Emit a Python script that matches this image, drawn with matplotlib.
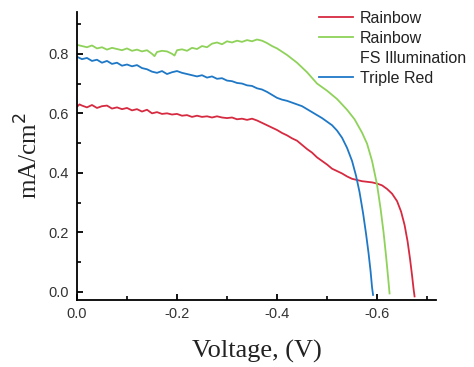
import matplotlib
matplotlib.use("Agg")
import matplotlib.pyplot as plt
import matplotlib.ticker as ticker
from matplotlib.lines import Line2D

# J-V curves (voltage is negative, axis runs 0 -> -0.7)
v_green = [0.000, -0.010, -0.020, -0.030, -0.040, -0.050, -0.060, -0.070, -0.080, -0.090,
           -0.100, -0.110, -0.120, -0.130, -0.140, -0.150, -0.155, -0.160, -0.170, -0.180,
           -0.190, -0.195, -0.200, -0.210, -0.220, -0.230, -0.240, -0.250, -0.260, -0.270,
           -0.280, -0.290, -0.300, -0.310, -0.320, -0.330, -0.340, -0.350, -0.360, -0.370,
           -0.380, -0.390, -0.400, -0.420, -0.440, -0.460, -0.480, -0.500, -0.520, -0.540,
           -0.555, -0.570, -0.580, -0.590, -0.600, -0.607, -0.613, -0.618, -0.622, -0.625]
j_green = [0.830, 0.826, 0.822, 0.828, 0.818, 0.822, 0.814, 0.820, 0.816, 0.812,
           0.818, 0.810, 0.814, 0.808, 0.812, 0.800, 0.792, 0.806, 0.810, 0.808,
           0.800, 0.794, 0.812, 0.815, 0.810, 0.820, 0.816, 0.826, 0.822, 0.834,
           0.838, 0.832, 0.842, 0.838, 0.844, 0.840, 0.846, 0.842, 0.848, 0.844,
           0.836, 0.826, 0.818, 0.796, 0.770, 0.738, 0.700, 0.676, 0.648, 0.612,
           0.580, 0.535, 0.498, 0.440, 0.360, 0.280, 0.200, 0.120, 0.050, -0.005]

v_blue = [0.000, -0.010, -0.020, -0.030, -0.040, -0.050, -0.060, -0.070, -0.080, -0.090,
          -0.100, -0.110, -0.120, -0.130, -0.140, -0.150, -0.160, -0.170, -0.180, -0.190,
          -0.200, -0.210, -0.220, -0.230, -0.240, -0.250, -0.260, -0.270, -0.280, -0.290,
          -0.300, -0.310, -0.320, -0.330, -0.340, -0.350, -0.360, -0.370, -0.380, -0.390,
          -0.400, -0.410, -0.420, -0.430, -0.440, -0.450, -0.460, -0.470, -0.480, -0.490,
          -0.500, -0.510, -0.520, -0.530, -0.540, -0.550, -0.558, -0.565, -0.572, -0.578,
          -0.583, -0.587, -0.590, -0.592]
j_blue = [0.790, 0.782, 0.786, 0.776, 0.780, 0.770, 0.776, 0.766, 0.770, 0.760,
          0.764, 0.758, 0.762, 0.752, 0.748, 0.740, 0.736, 0.742, 0.732, 0.738,
          0.742, 0.736, 0.732, 0.728, 0.724, 0.728, 0.720, 0.724, 0.716, 0.718,
          0.710, 0.708, 0.702, 0.700, 0.694, 0.692, 0.684, 0.680, 0.672, 0.662,
          0.652, 0.646, 0.642, 0.636, 0.630, 0.624, 0.614, 0.604, 0.594, 0.584,
          0.572, 0.560, 0.542, 0.518, 0.484, 0.440, 0.390, 0.335, 0.265, 0.195,
          0.130, 0.070, 0.015, -0.010]

v_red = [0.000, -0.005, -0.010, -0.020, -0.030, -0.040, -0.050, -0.060, -0.070, -0.080,
         -0.090, -0.100, -0.110, -0.120, -0.130, -0.140, -0.150, -0.160, -0.170, -0.180,
         -0.190, -0.200, -0.210, -0.220, -0.230, -0.240, -0.250, -0.260, -0.270, -0.280,
         -0.290, -0.300, -0.310, -0.320, -0.330, -0.340, -0.350, -0.360, -0.370, -0.380,
         -0.390, -0.400, -0.410, -0.420, -0.430, -0.440, -0.450, -0.460, -0.470, -0.480,
         -0.490, -0.500, -0.510, -0.520, -0.530, -0.540, -0.550, -0.560, -0.570, -0.580,
         -0.590, -0.600, -0.610, -0.620, -0.630, -0.640, -0.648, -0.655, -0.661, -0.666,
         -0.670, -0.673, -0.675]
j_red = [0.622, 0.630, 0.626, 0.620, 0.628, 0.618, 0.624, 0.626, 0.616, 0.620,
         0.614, 0.618, 0.610, 0.614, 0.606, 0.612, 0.600, 0.604, 0.598, 0.600,
         0.596, 0.598, 0.592, 0.594, 0.588, 0.592, 0.588, 0.590, 0.586, 0.590,
         0.586, 0.584, 0.586, 0.580, 0.582, 0.578, 0.582, 0.576, 0.568, 0.560,
         0.552, 0.544, 0.534, 0.526, 0.516, 0.508, 0.494, 0.480, 0.468, 0.452,
         0.440, 0.428, 0.414, 0.406, 0.398, 0.388, 0.380, 0.376, 0.372, 0.370,
         0.368, 0.364, 0.358, 0.346, 0.330, 0.305, 0.270, 0.225, 0.170, 0.110,
         0.055, 0.010, -0.015]

labels = ["Rainbow", "Rainbow", "FS Illumination", "Triple Red"]

plt.rcParams['axes.unicode_minus'] = False

fig = plt.figure(figsize=(4.74, 3.67), dpi=100)
ax = fig.add_axes([0.1624, 0.1826, 0.7576, 0.7844])

l_red, = ax.plot(v_red, j_red, color='#d62a40', lw=1.3)
l_green, = ax.plot(v_green, j_green, color='#8fd25a', lw=1.3)
l_blue, = ax.plot(v_blue, j_blue, color='#1f78c6', lw=1.3)
blank = Line2D([], [], color='none')

ax.set_xlim(0, -0.718)
ax.set_ylim(-0.027, 0.94)
ax.xaxis.set_major_locator(ticker.FixedLocator([0, -0.2, -0.4, -0.6]))
ax.xaxis.set_minor_locator(ticker.FixedLocator([-0.1, -0.3, -0.5, -0.7]))
ax.yaxis.set_major_locator(ticker.MultipleLocator(0.2))
ax.yaxis.set_minor_locator(ticker.FixedLocator([0.1, 0.3, 0.5, 0.7, 0.9]))
ax.xaxis.set_major_formatter(ticker.FormatStrFormatter('%.1f'))
ax.yaxis.set_major_formatter(ticker.FormatStrFormatter('%.1f'))

for s in ['top', 'right']:
    ax.spines[s].set_visible(False)
for s in ['left', 'bottom']:
    ax.spines[s].set_linewidth(1.3)
ax.tick_params(which='major', direction='in', length=4, width=1.3,
               labelsize=10.5, labelcolor='#333333')
ax.tick_params(axis='y', which='major', pad=6)
ax.tick_params(axis='x', which='major', pad=5)
ax.tick_params(which='minor', direction='in', length=3, width=1.2)
for t in ax.get_xticklabels() + ax.get_yticklabels():
    t.set_family('Liberation Sans')

ax.set_xlabel('Voltage, (V)', family='Liberation Serif', fontsize=19, color='#222222', labelpad=14)
ax.set_ylabel('mA/cm$^2$', family='Liberation Serif', fontsize=18, color='#222222', labelpad=4)

leg = ax.legend([l_red, l_green, blank, l_blue], labels,
                loc='upper left', bbox_to_anchor=(0.652, 1.033), frameon=False,
                prop={'family': 'Liberation Sans', 'size': 11.5},
                handlelength=2.1, handletextpad=0.45, labelspacing=0.32, borderpad=0)
for t in leg.get_texts():
    t.set_color('#222222')

fig.savefig('out.png', dpi=100)
